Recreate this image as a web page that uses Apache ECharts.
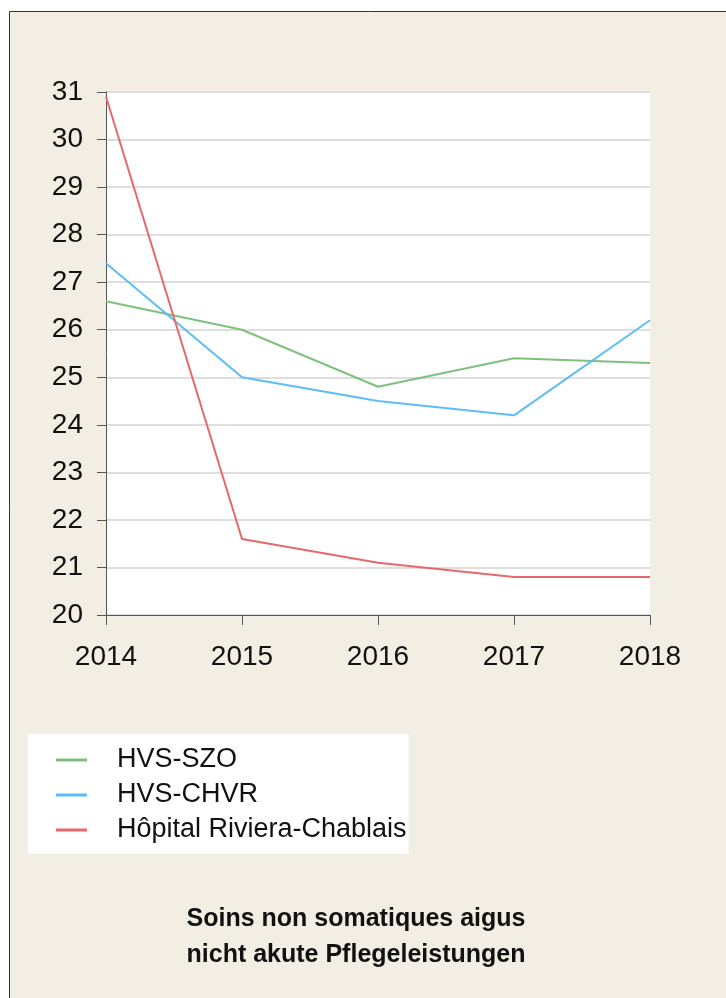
<!DOCTYPE html>
<html>
<head>
<meta charset="utf-8">
<script src="https://cdn.jsdelivr.net/npm/echarts@6/dist/echarts.min.js"></script>
<style>
  html, body { margin: 0; padding: 0; background: #fff; }
  #chart { width: 726px; height: 998px; }
</style>
</head>
<body>
<div id="chart"></div>
<script>
// ----------data----------
const years = ['2014', '2015', '2016', '2017', '2018'];
const szo = [26.6, 26.0, 24.8, 25.4, 25.3];
const chvr = [27.4, 25.0, 24.5, 24.2, 26.2];
const riviera = [30.9, 21.6, 21.1, 20.8, 20.8];
const seriesNames = ['HVS-SZO', 'HVS-CHVR', 'Hôpital Riviera-Chablais'];
const titleLines = ['Soins non somatiques aigus', 'nicht akute Pflegeleistungen'];

// ----------style----------
const FONT = '"Liberation Sans Narrow", "Arial Narrow", "Liberation Sans", Arial, sans-serif';
const colors = ['#7dc17e', '#5cbdf8', '#e8686a'];

const chart = echarts.init(document.getElementById('chart'));

const makeLine = (name, data, color) => ({
  name,
  type: 'line',
  data,
  showSymbol: false,
  symbol: 'none',
  lineStyle: { color, width: 2 },
  itemStyle: { color },
});

chart.setOption({
  animation: false,
  backgroundColor: 'transparent',
  graphic: [
    {
      type: 'rect',
      shape: { x: 9.5, y: 11.5, width: 730, height: 1000 },
      style: { fill: '#f3eee4', stroke: '#333', lineWidth: 1 },
      z: -10,
    },
  ],
  title: {
    text: titleLines.join('\n'),
    left: 351,
    textAlign: 'center',
    top: 896,
    textStyle: {
      fontFamily: FONT,
      fontWeight: 'bold',
      fontSize: 25,
      lineHeight: 36,
      color: '#111',
    },
  },
  legend: {
    data: seriesNames,
    orient: 'vertical',
    left: 28,
    top: 734,
    backgroundColor: '#fff',
    padding: [11, 2, 9, 28],
    itemGap: 5,
    itemWidth: 31,
    itemHeight: 3,
    icon: 'rect',
    textStyle: {
      fontFamily: FONT,
      fontSize: 27,
      lineHeight: 30,
      color: '#111',
      padding: [0, 0, 0, 25],
    },
  },
  grid: {
    left: 106,
    right: 76,
    top: 92,
    height: 523,
    show: true,
    backgroundColor: '#fff',
    borderWidth: 0,
    containLabel: false,
  },
  xAxis: {
    type: 'category',
    data: years,
    boundaryGap: false,
    axisLine: { lineStyle: { color: '#555', width: 1 } },
    axisTick: { show: true, length: 10, alignWithLabel: true, lineStyle: { color: '#555' } },
    axisLabel: { fontFamily: FONT, fontSize: 28, color: '#111', margin: 28 },
    splitLine: { show: false },
  },
  yAxis: {
    type: 'value',
    min: 20,
    max: 31,
    interval: 1,
    axisLine: { show: true, lineStyle: { color: '#555', width: 1 } },
    axisTick: { show: true, length: 9, lineStyle: { color: '#555' } },
    axisLabel: { fontFamily: FONT, fontSize: 28, color: '#111', margin: 23 },
    splitLine: { lineStyle: { color: '#dedede', width: 2 } },
  },
  series: [
    makeLine(seriesNames[0], szo, colors[0]),
    makeLine(seriesNames[1], chvr, colors[1]),
    makeLine(seriesNames[2], riviera, colors[2]),
  ],
});
</script>
</body>
</html>
